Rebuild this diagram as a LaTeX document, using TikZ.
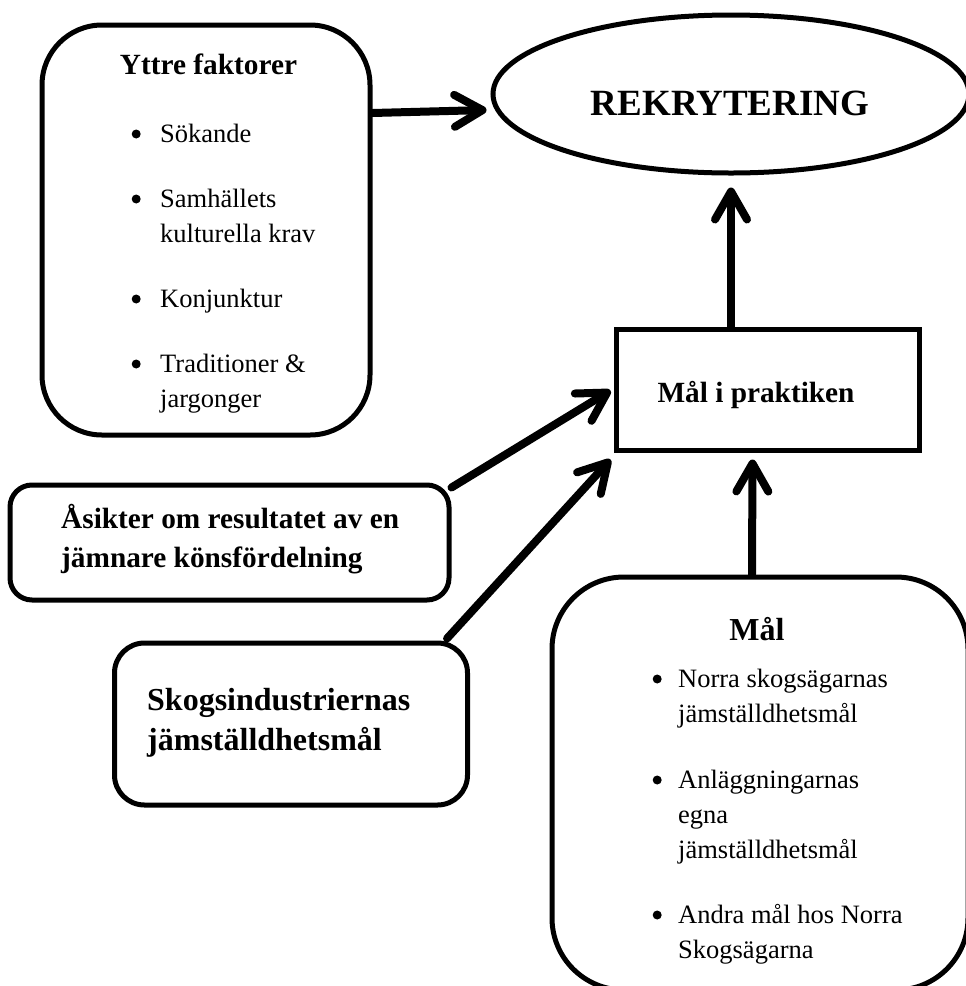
\documentclass[tikz,border=0pt]{standalone}
\usepackage{fontspec}
\setmainfont{Liberation Serif}
\usetikzlibrary{arrows.meta,shapes.geometric,calc}
\tikzset{
  box/.style={draw=black, line width=5pt, inner sep=0pt, fill=white},
  conn/.style={line width=8pt, line cap=round, -{Straight Barb[length=28pt,width=32pt,round]}},
  itemtxt/.style={anchor=base west, align=left, inner sep=0pt, font=\fontsize{26.5}{35}\selectfont},
  headtxt/.style={anchor=base, inner sep=0pt, font=\bfseries\fontsize{29.3}{39}\selectfont},
}
\newcommand{\bul}[1]{\makebox[0pt][r]{\raisebox{3.5pt}{\tikz\fill (0,0) circle (4.5pt);}\hspace{#1}}}
\begin{document}
\begin{tikzpicture}[x=1pt,y=-1pt]
\useasboundingbox (0,0) rectangle (966,986);
\clip (0,0) rectangle (966,986);
% shapes
\node[box, rounded corners=60pt, minimum width=328pt, minimum height=410pt] (yttre) at (206,230) {};
\node[box, ellipse, minimum width=476pt, minimum height=158pt] (rek) at (731,94) {};
\node[box, minimum width=303pt, minimum height=121pt] (prak) at (767.5,389.5) {};
\node[box, rounded corners=22pt, minimum width=439pt, minimum height=115pt] (asik) at (229.5,542.5) {};
\node[box, rounded corners=30pt, minimum width=353pt, minimum height=162pt] (skog) at (291,724) {};
\node[box, rounded corners=72pt, minimum width=416pt, minimum height=413pt] (mal) at (760,783.5) {};
% texts (base anchor = baseline of the last line)
\node[headtxt] (yttret) at (208.5,74) {Yttre faktorer};
\node[itemtxt] (y1) at (160,142) {\bul{19.5pt}Sökande};
\node[itemtxt] (y2) at (160,242) {\bul{19.5pt}Samhällets\\kulturella krav};
\node[itemtxt] (y3) at (160,307) {\bul{19.5pt}Konjunktur};
\node[itemtxt] (y4) at (160,407) {\bul{19.5pt}Traditioner \&\\jargonger};
\node[headtxt, font=\bfseries\fontsize{37}{44}\selectfont] (rekt) at (730,115) {REKRYTERING};
\node[headtxt] (prakt) at (756,402) {Mål i praktiken};
\node[headtxt, anchor=base west, align=left] (asikt) at (61,567) {Åsikter om resultatet av en\\jämnare könsfördelning};
\node[headtxt, anchor=base west, align=left, font=\bfseries\fontsize{32}{40}\selectfont] (skogt) at (147,750) {Skogsindustriernas\\jämställdhetsmål};
\node[headtxt, font=\bfseries\fontsize{32}{40}\selectfont] (malt) at (757,640) {Mål};
\node[itemtxt] (m1) at (678,722) {\bul{16.5pt}Norra skogsägarnas\\jämställdhetsmål};
\node[itemtxt] (m2) at (678,858) {\bul{16.5pt}Anläggningarnas\\egna\\jämställdhetsmål};
\node[itemtxt] (m3) at (678,958) {\bul{16.5pt}Andra mål hos Norra\\Skogsägarna};
% connectors
\draw[conn] ($(yttre.east)+(0,-117)$) -- ($(rek.west)+(-4,16)$);
\draw[conn] (prak.north -| rek.south) -- ($(rek.south)+(0,12)$);
\draw[conn] ($(asik.north east)+(0,5)$) -- ($(prak.west)+(-3,1)$);
\draw[conn] ($(skog.north east)+(-23,-2)$) -- ($(prak.south west)+(-3,7)$);
\draw[conn] ($(mal.north)+(-8,0)$) -- ($(prak.south)+(-15,7)$);
\end{tikzpicture}
\end{document}
